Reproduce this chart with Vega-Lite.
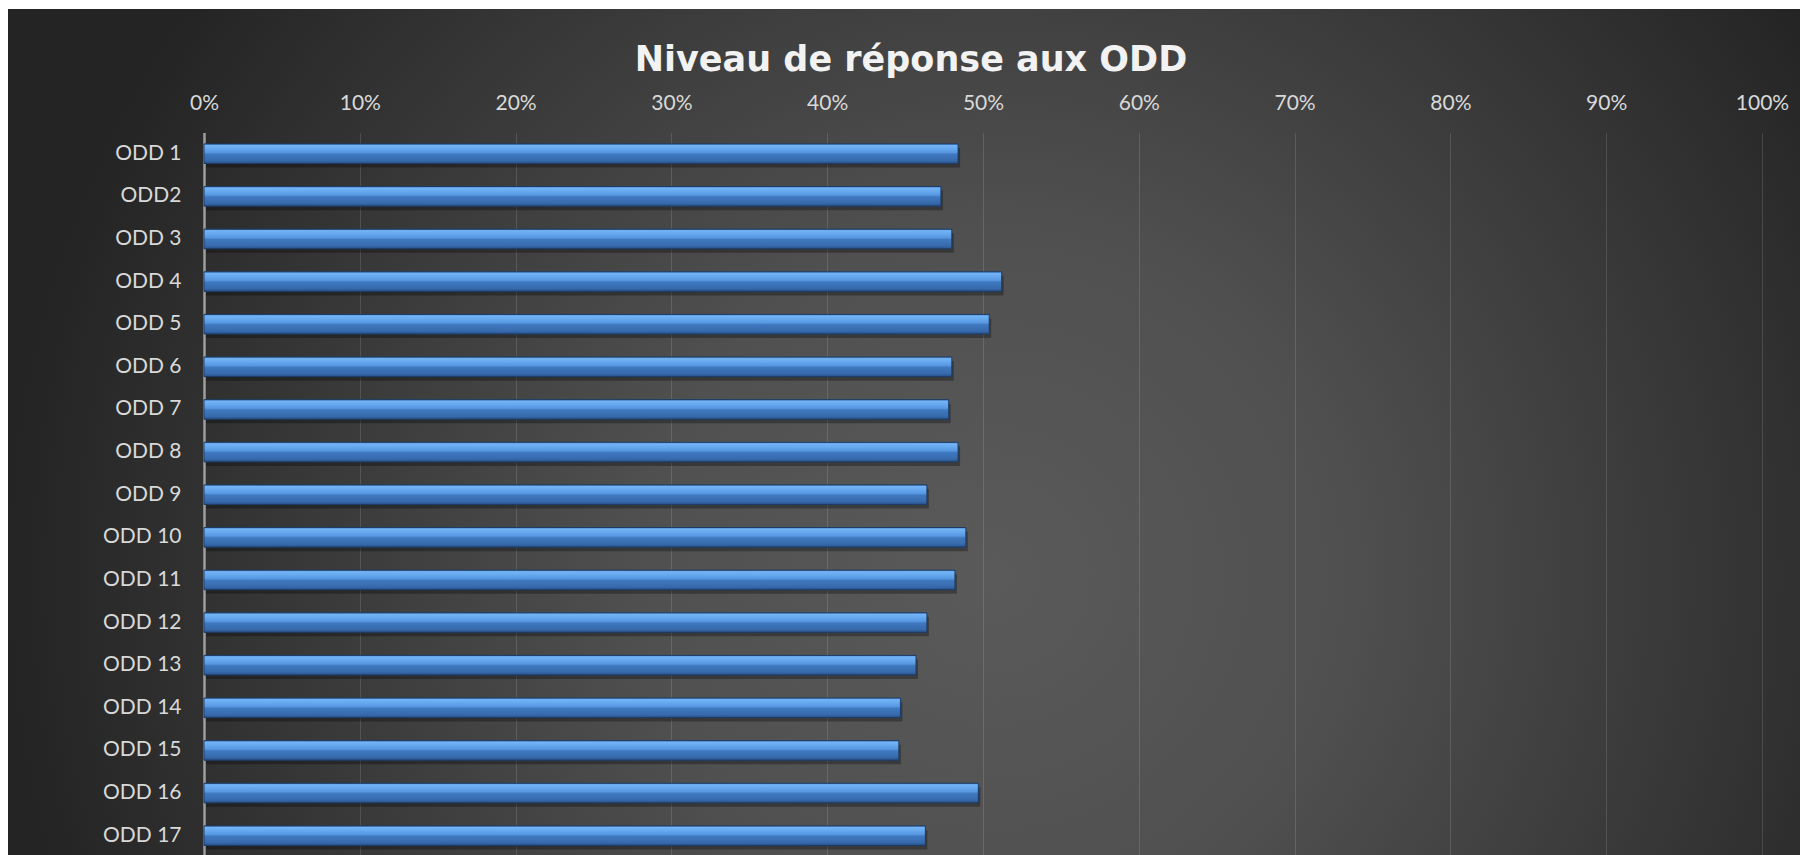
{
  "$schema": "https://vega.github.io/schema/vega-lite/v6.json",
  "autosize": "none",
  "width": 1792,
  "height": 846,
  "padding": {"left": 8, "top": 9, "right": 0, "bottom": 0},
  "background": "#ffffff",
  "config": {
    "font": "Lato",
    "view": {
      "stroke": null,
      "fill": {
        "gradient": "radial",
        "x1": 0.55, "y1": 0.58, "r1": 0,
        "x2": 0.55, "y2": 0.58, "r2": 0.55,
        "stops": [
          {"offset": 0, "color": "#5a5a5a"},
          {"offset": 0.35, "color": "#505050"},
          {"offset": 1, "color": "#242424"}
        ]
      }
    }
  },
  "title": {
    "text": "Niveau de réponse aux ODD",
    "font": "DejaVu Sans",
    "fontSize": 35,
    "fontWeight": "bold",
    "color": "#f2f2f2",
    "anchor": "middle",
    "frame": "group",
    "baseline": "alphabetic",
    "offset": -97,
    "dx": 7
  },
  "data": {
    "values": [
      {"odd": "ODD 1", "taux": 0.484},
      {"odd": "ODD2", "taux": 0.473},
      {"odd": "ODD 3", "taux": 0.480},
      {"odd": "ODD 4", "taux": 0.512},
      {"odd": "ODD 5", "taux": 0.504},
      {"odd": "ODD 6", "taux": 0.480},
      {"odd": "ODD 7", "taux": 0.478},
      {"odd": "ODD 8", "taux": 0.484},
      {"odd": "ODD 9", "taux": 0.464},
      {"odd": "ODD 10", "taux": 0.489},
      {"odd": "ODD 11", "taux": 0.482},
      {"odd": "ODD 12", "taux": 0.464},
      {"odd": "ODD 13", "taux": 0.457},
      {"odd": "ODD 14", "taux": 0.447},
      {"odd": "ODD 15", "taux": 0.446},
      {"odd": "ODD 16", "taux": 0.497},
      {"odd": "ODD 17", "taux": 0.463}
    ]
  },
  "encoding": {
    "y": {
      "field": "odd",
      "type": "nominal",
      "sort": null,
      "title": null,
      "scale": {"range": [123.4, 848], "paddingInner": 0.54, "paddingOuter": 0.27},
      "axis": {
        "orient": "left",
        "offset": -196,
        "ticks": false,
        "tickSize": 0,
        "labelPadding": 23,
        "labelFont": "Lato",
        "labelFontSize": 21,
        "labelColor": "#d9d9d9",
        "domain": true,
        "domainColor": "#9e9e9e",
        "domainWidth": 2.5,
        "grid": false
      }
    },
    "x": {
      "field": "taux",
      "type": "quantitative",
      "title": null,
      "scale": {"domain": [0, 1], "range": [196, 1754], "nice": false},
      "axis": {
        "orient": "top",
        "offset": -123,
        "values": [0, 0.1, 0.2, 0.3, 0.4, 0.5, 0.6, 0.7, 0.8, 0.9, 1],
        "format": ".0%",
        "ticks": false,
        "tickSize": 0,
        "domain": false,
        "labelPadding": 19,
        "labelFont": "Lato",
        "labelFontSize": 21,
        "labelColor": "#d9d9d9",
        "labelFlush": false,
        "labelOverlap": false,
        "grid": true,
        "gridColor": "#ffffff",
        "gridOpacity": 0.13,
        "gridWidth": 1
      }
    }
  },
  "layer": [
    {
      "mark": {"type": "bar", "color": "#000000", "opacity": 0.3, "yOffset": 4, "xOffset": 2}
    },
    {
      "mark": {
        "type": "bar",
        "color": {
          "gradient": "linear",
          "x1": 0, "y1": 0, "x2": 0, "y2": 1,
          "stops": [
            {"offset": 0, "color": "#4282cc"},
            {"offset": 0.08, "color": "#74b4f5"},
            {"offset": 0.25, "color": "#66a8ee"},
            {"offset": 0.44, "color": "#5697e0"},
            {"offset": 0.52, "color": "#4079c0"},
            {"offset": 0.85, "color": "#376aac"},
            {"offset": 1, "color": "#284f85"}
          ]
        },
        "stroke": "#1d3c66",
        "strokeWidth": 1
      }
    }
  ]
}
